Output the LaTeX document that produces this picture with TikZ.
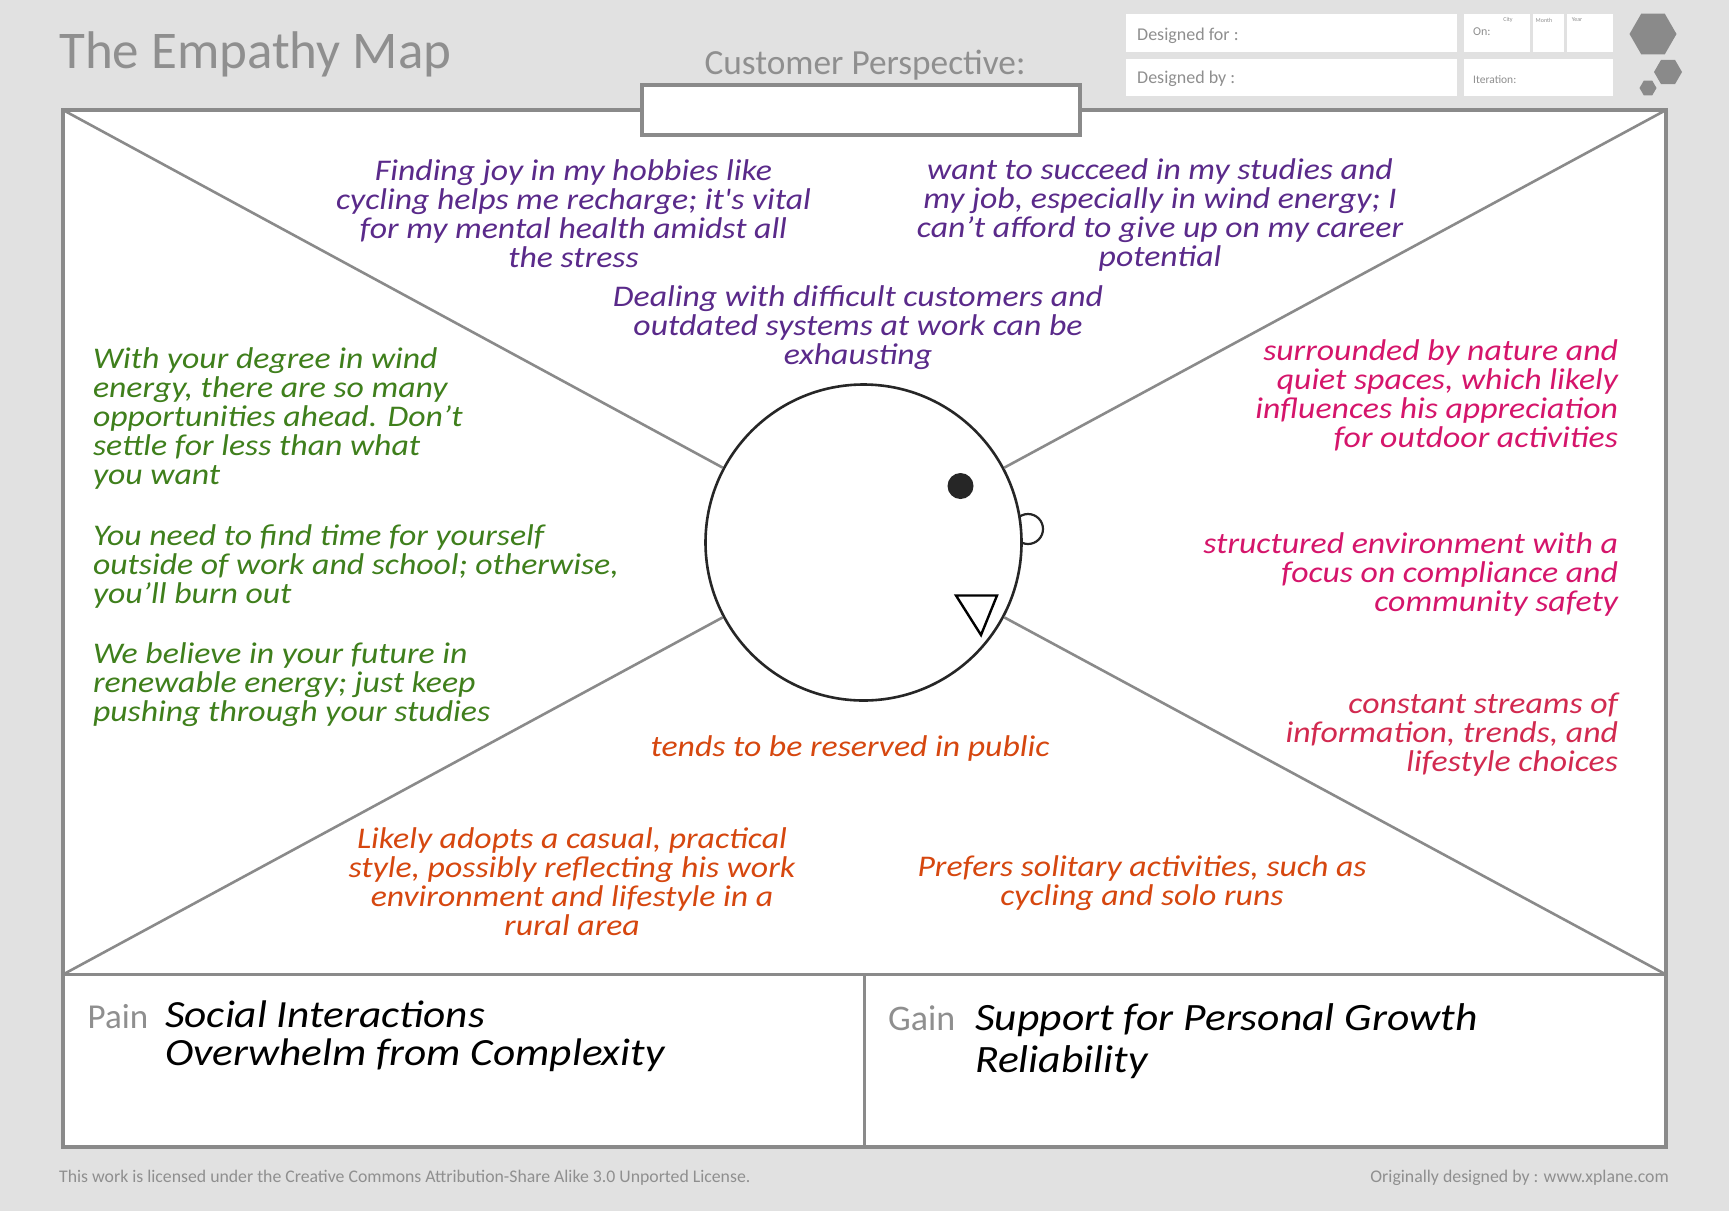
\documentclass[tikz,border=0pt]{standalone}
\usepackage{fontspec}
\setmainfont{Carlito}
\newfontfamily\handf[FakeStretch=1.125]{Carlito}
\usetikzlibrary{shapes.geometric}
\definecolor{bgc}{HTML}{E1E1E1}
\definecolor{frm}{HTML}{8A8A8A}
\definecolor{labc}{HTML}{8F8F8F}
\definecolor{purp}{HTML}{5A2A8A}
\definecolor{grn}{HTML}{3F7F1C}
\definecolor{pnk}{HTML}{D5156B}
\definecolor{pnkb}{HTML}{D22A50}
\definecolor{orng}{HTML}{D6470F}
\newcommand{\hand}{\handf\itshape\fontsize{30}{29}\selectfont}
\tikzset{
  x=1pt,y=-1pt,
  frameline/.style={draw=frm,line width=4pt,line join=miter},
  diag/.style={draw=frm,line width=2.6pt},
  whitebox/.style={fill=white,draw=none},
  hex/.style={regular polygon,regular polygon sides=6,fill=frm,draw=none,inner sep=0pt},
  block/.style={inner sep=0pt,outer sep=0pt,text=#1},
  blockc/.style={block=#1,align=center,font=\hand},
  blockl/.style={block=#1,align=left,anchor=west,font=\hand},
  blockr/.style={block=#1,align=right,anchor=east,font=\hand},
  big/.style={inner sep=0pt,anchor=west,align=left,font=\handf\itshape\fontsize{38.5}{38}\selectfont},
  biggain/.style={inner sep=0pt,anchor=west,align=left,font=\handf\itshape\fontsize{38.7}{42}\selectfont},
  grey/.style={inner sep=0pt,text=labc},
}
\begin{document}
\begin{tikzpicture}
\useasboundingbox (0,0) rectangle (1729,1211);
\fill[bgc] (0,0) rectangle (1729,1211);
% header
\node[grey,anchor=west,font=\fontsize{53}{53}\selectfont] (title) at (59,54) {The Empathy Map};
\node[grey,font=\fontsize{35.3}{36}\selectfont] (persp) at (865,65.5) {Customer Perspective:};
\fill[whitebox] (1126,14) rectangle (1457,52);
\fill[whitebox] (1126,59) rectangle (1457,96);
\fill[whitebox] (1464,14) rectangle (1530,52);
\fill[whitebox] (1533,14) rectangle (1564,52);
\fill[whitebox] (1567,14) rectangle (1613,52);
\fill[whitebox] (1464,59) rectangle (1613,96);
\node[grey,anchor=west,font=\fontsize{18}{18}\selectfont] (dfor) at (1137,36) {Designed for :};
\node[grey,anchor=west,font=\fontsize{18}{18}\selectfont] (dby) at (1137,79) {Designed by :};
\node[grey,anchor=west,font=\fontsize{12}{12}\selectfont] (on) at (1473,32) {On:};
\node[grey,font=\fontsize{6}{6}\selectfont] (city) at (1508,20) {City};
\node[grey,font=\fontsize{6}{6}\selectfont] (month) at (1544,20) {Month};
\node[grey,font=\fontsize{6}{6}\selectfont] (year) at (1577,20) {Year};
\node[grey,anchor=west,font=\fontsize{11.5}{12}\selectfont] (iter) at (1473,79.5) {Iteration:};
\node[hex,minimum size=47pt] (h1) at (1653,34) {};
\node[hex,minimum size=28pt] (h2) at (1668,72) {};
\node[hex,minimum size=17pt] (h3) at (1648,88) {};
% frame
\fill[white] (63,110) rectangle (1666,1147);
\draw[frameline] (63,110) rectangle (1666,1147);
\draw[frameline,fill=white] (642,85) rectangle (1080,134.5);
\draw[frameline,line width=3pt] (63,974.5) -- (1666,974.5);
\draw[frameline,line width=3pt] (864.5,974.5) -- (864.5,1147);
\coordinate (tl) at (63,110);
\coordinate (tr) at (1666,110);
\coordinate (bl) at (63,974.5);
\coordinate (br) at (1666,974.5);
\node[circle,draw=black!85,line width=2.2pt,minimum size=30pt,inner sep=0pt] (ear) at (1028,529) {};
\node[circle,draw=black!85,line width=2.6pt,minimum size=316pt,inner sep=0pt,fill=white] (head) at (863.5,542.5) {};
\draw[diag] (tl) -- (head.152);
\draw[diag] (tr) -- (head.28);
\draw[diag] (bl) -- (head.208);
\draw[diag] (br) -- (head.332);
% face
\node[circle,fill=black!85,minimum size=26pt,inner sep=0pt] (eye) at (960.5,486) {};
\draw[black,line width=2.4pt,line join=miter] (956,595.5) -- (997,595.5) -- (981,635) -- cycle;
% purple
\node[blockc=purp] (a1) at (573.5,214) {Finding joy in my hobbies like\\cycling helps me recharge; it's vital\\for my mental health amidst all\\the stress};
\node[blockc=purp] (a2) at (1160,215) {want to succeed in my studies and\\my job, especially in wind energy; I\\can’t afford to give up on my career\\potential};
\node[blockc=purp] (a3) at (858,328) {Dealing with difficult customers and\\outdated systems at work can be\\exhausting};
% green
\node[blockl=grn] (g1) at (93,418) {With your degree in wind\\energy, there are so many\\opportunities ahead. Don’t\\settle for less than what\\you want};
\node[blockl=grn] (g2) at (93,566) {You need to find time for yourself\\outside of work and school; otherwise,\\you’ll burn out};
\node[blockl=grn] (g3) at (93,685) {We believe in your future in\\renewable energy; just keep\\pushing through your studies};
% pink
\node[blockr=pnk] (p1) at (1618,395) {surrounded by nature and\\quiet spaces, which likely\\influences his appreciation\\for outdoor activities};
\node[blockr=pnk] (p2) at (1618,574) {structured environment with a\\focus on compliance and\\community safety};
\node[blockr=pnkb] (p3) at (1618,735) {constant streams of\\information, trends, and\\lifestyle choices};
% orange
\node[blockc=orng] (o1) at (850,748) {tends to be reserved in public};
\node[blockc=orng] (o2) at (572,882) {Likely adopts a casual, practical\\style, possibly reflecting his work\\environment and lifestyle in a\\rural area};
\node[blockc=orng] (o3) at (1142,883) {Prefers solitary activities, such as\\cycling and solo runs};
% pain, gain
\node[grey,anchor=west,font=\fontsize{35}{35}\selectfont] (pain) at (87.5,1017) {Pain};
\node[grey,anchor=west,font=\fontsize{36}{36}\selectfont] (gain) at (888,1018) {Gain};
\node[big] (ptext) at (165,1036) {Social Interactions\\Overwhelm from Complexity};
\node[biggain] (gtext) at (975,1041) {Support for Personal Growth\\Reliability};
% footer
\node[grey,anchor=west,font=\fontsize{17.75}{18}\selectfont] (lic) at (59,1178) {This work is licensed under the Creative Commons Attribution-Share Alike 3.0 Unported License.};
\node[grey,anchor=east,font=\fontsize{17.8}{18}\selectfont] (orig) at (1669,1178) {Originally designed by : www.xplane.com};
\end{tikzpicture}
\end{document}
